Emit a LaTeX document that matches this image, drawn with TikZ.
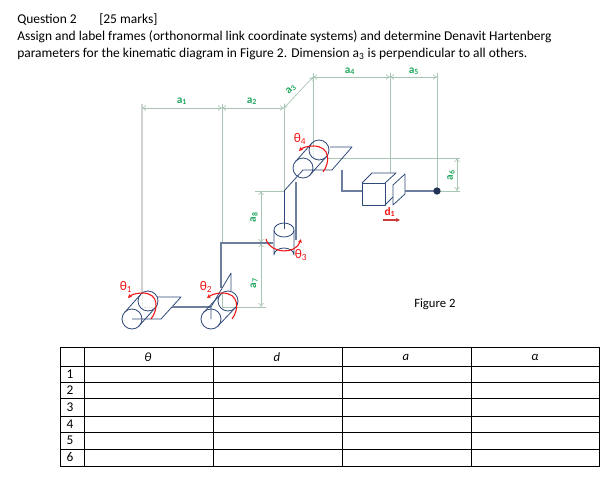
\documentclass[tikz,border=0pt]{standalone}
\usepackage{fontspec}
\setmainfont{Carlito}
\usepackage{xcolor}
\usetikzlibrary{shapes.geometric, arrows, arrows.meta, positioning, calc}
\definecolor{linkblue}{HTML}{2F4A7A}
\definecolor{heavyblue}{HTML}{6E7F9E}
\definecolor{dimgreen}{HTML}{A8C4B2}
\definecolor{labgreen}{HTML}{22A860}
\definecolor{jointred}{HTML}{F01414}
\tikzset{
    para/.style={anchor=base west, inner sep=0pt, font=\fontsize{10.1}{11}\selectfont},
    link/.style={draw=linkblue, line width=0.6pt, line join=round},
    heavy/.style={draw=heavyblue, line width=1pt},
    extline/.style={draw=dimgreen, line width=0.5pt},
    dimline/.style={{To[length=3pt,width=4pt]}-{To[length=3pt,width=4pt]}, draw=dimgreen, line width=0.5pt},
    dimlab/.style={text=labgreen, inner sep=0pt, font=\fontsize{8.5}{9}\selectfont\bfseries},
    jointlab/.style={text=jointred, inner sep=0pt, font=\fontsize{10}{11}\selectfont},
    jointarc/.style={-{Stealth[length=3pt,width=3pt]}, draw=jointred, line width=0.8pt},
    faint/.style={draw=dimgreen!50, line width=0.3pt, densely dotted},
    headcell/.style={inner sep=0pt, font=\fontsize{9.5}{10}\selectfont\itshape},
    rownum/.style={inner sep=0pt, font=\fontsize{10}{11}\selectfont}
}
\begin{document}
\begin{tikzpicture}[x=0.75pt, y=-0.75pt]
    \useasboundingbox (0,0) rectangle (615,504);

    % --- QUESTION TEXT ---
    \node (qnum) [para] at (17,23) {Question 2};
    \node (qmark) [para] at (99,23) {[25 marks]};
    \node (line1) [para] at (17,40) {Assign and label frames (orthonormal link coordinate systems) and determine Denavit Hartenberg};
    \node (line2) [para] at (17,57) {parameters for the kinematic diagram in Figure 2. Dimension a\textsubscript{3} is perpendicular to all others.};
    \node (figlab) [para, font=\fontsize{9.5}{10}\selectfont] at (414,307) {Figure 2};

    % Dimension points
    \coordinate (d0) at (142,108);
    \coordinate (d1) at (222,108);
    \coordinate (d2) at (284,108);
    \coordinate (d3) at (313,77);
    \coordinate (d4) at (390,77);
    \coordinate (d5) at (437,77);
    \coordinate (h1) at (457,158);
    \coordinate (h2) at (457,191);
    \coordinate (v1) at (261,191);
    \coordinate (v2) at (261,243);
    \coordinate (v3) at (261,307);

    % Extension lines
    \draw[extline, draw=gray!35, line width=0.8pt] (142,104) -- (142,293);
    \draw[extline] (222,104) -- (222,243);
    \draw[extline] (222,292) -- (222,307) -- (266,307);
    \draw[extline] (284,104) -- (284,191) -- (255,191);
    \draw[extline] (313,73) -- (313,146);
    \draw[extline] (327,158) -- (460,158);
    \draw[extline] (390,73) -- (390,173);
    \draw[extline] (437,73) -- (437,191) -- (460,191);
    \draw[faint] (142,293) -- (142,307) -- (157,307);
    \draw[faint] (313,146) -- (313,158) -- (327,158);

    % Dimension arrows
    \draw[dimline] (d0) -- (d1);
    \draw[dimline] (d1) -- (d2);
    \draw[dimline] (d2) -- (d3);
    \draw[dimline] (d3) -- (d4);
    \draw[dimline] (d4) -- (d5);
    \draw[dimline] (h1) -- (h2);
    \draw[dimline] (v1) -- (v2);
    \draw[dimline] (v2) -- (v3);

    % Dimension labels
    \node (la1) [dimlab] at (182,101) {a\textsubscript{1}};
    \node (la2) [dimlab] at (252,101) {a\textsubscript{2}};
    \node (la3) [dimlab, rotate=45] at (291,89) {a\textsubscript{3}};
    \node (la4) [dimlab] at (350,71) {a\textsubscript{4}};
    \node (la5) [dimlab] at (414,71) {a\textsubscript{5}};
    \node (la6) [dimlab, rotate=90] at (451,175) {a\textsubscript{6}};
    \node (la7) [dimlab, rotate=90] at (254,283) {a\textsubscript{7}};
    \node (la8) [dimlab, rotate=90] at (254,217) {a\textsubscript{8}};

    % --- JOINT 1 ---
    \draw[link] (148,301) circle (10);
    \draw[link] (132,319) circle (10);
    \draw[link] (125,312) -- (141,294);
    \draw[link] (139,326) -- (155,308);
    \draw[link] (132,319) -- (161,319) -- (181,297) -- (157,297);

    % --- LINK TO JOINT 2 ---
    \draw[heavy] (172,307) -- (211,307);

    % --- JOINT 2 ---
    \draw[link] (228,301) circle (10);
    \draw[link] (211,319) circle (10);
    \draw[link] (204,312) -- (221,294);
    \draw[link] (218,326) -- (235,308);
    \draw[link] (211,319) -- (211,307) -- (231,273) -- (231,291);
    \draw[heavy] (221,288) -- (221,243) -- (273,243);

    % --- JOINT 3 ---
    \draw[link] (274,230) -- (274,255) arc[start angle=180, end angle=360, x radius=10, y radius=7] -- (294,230);
    \draw[link, fill=white] (284,230) ellipse (10 and 7);
    \draw[link] (284,191) -- (284,229);
    \draw[heavy] (296,240) -- (296,182);

    % --- JOINT 4 ---
    \draw[link] (284,191) -- (303,170);
    \draw[link] (319,150) circle (10);
    \draw[link] (303,168) circle (10);
    \draw[link] (296,161) -- (312,143);
    \draw[link] (310,175) -- (326,157);
    \draw[link] (303,170) -- (332,170) -- (352,147) -- (330,147);
    \draw[heavy] (342,170) -- (342,191) -- (362,191);

    % --- PRISMATIC JOINT ---
    \draw[link] (362,183) rectangle (385,205);
    \draw[link] (362,183) -- (372,173) -- (396,173) -- (385,183);
    \draw[link] (385,205) -- (393,197);
    \draw[link] (393,185) -- (405,174) -- (405,194) -- (393,205) -- cycle;
    \draw[heavy] (405,191) -- (437,191);
    \node (tip) [circle, fill=linkblue!70!black, minimum size=5.5pt, inner sep=0pt] at (437,191) {};

    % Joint motions
    \draw[jointarc] (151,319) .. controls (158,310) and (160,293) .. (142,293) .. controls (136,293) and (131,295) .. (128,298);
    \draw[jointarc] (232,319) .. controls (239,310) and (240,293) .. (222,293) .. controls (216,293) and (211,295) .. (207,298);
    \draw[jointarc] (266,239) .. controls (270,254) and (296,255) .. (301,239);
    \draw[jointarc] (323,172) .. controls (330,163) and (331,146) .. (313,146) .. controls (307,146) and (302,148) .. (299,151);
    \coordinate (ds) at (383,220);
    \coordinate (de) at (400,220);
    \draw[jointarc, draw=jointred!65!gray] (ds) -- (de);

    % Joint labels
    \node (t1) [jointlab] at (126,287) {θ\textsubscript{1}};
    \node (t2) [jointlab] at (206,287) {θ\textsubscript{2}};
    \node (t3) [jointlab] at (301,255) {θ\textsubscript{3}};
    \node (t4) [jointlab] at (300,139) {θ\textsubscript{4}};
    \node (ld1) [jointlab, font=\fontsize{8.5}{9}\selectfont\bfseries] at (390,212) {d\textsubscript{1}};

    % --- TABLE ---
    \draw[black, line width=0.7pt] (60,347) rectangle (599,466);
    \foreach \yy in {366,382,398,416,432,449}
        \draw[black, line width=0.7pt] (60,\yy) -- (599,\yy);
    \foreach \xx in {84,213,342,471}
        \draw[black, line width=0.7pt] (\xx,347) -- (\xx,466);
    \node (hth) [headcell] at (148,357) {θ};
    \node (hd) [headcell] at (277,357) {d};
    \node (ha) [headcell] at (406,357) {a};
    \node (hal) [headcell] at (535,357) {α};
    \foreach \nn/\yy in {1/374,2/390,3/407,4/424,5/440,6/457}
        \node (row\nn) [rownum] at (70,\yy) {\nn};

\end{tikzpicture}
\end{document}
